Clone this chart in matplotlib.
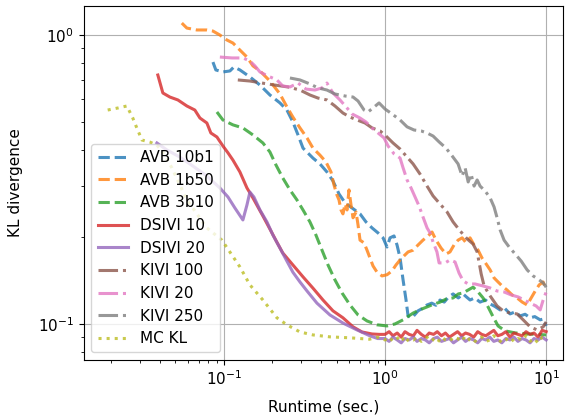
import matplotlib
matplotlib.use("Agg")
import matplotlib.pyplot as plt

# runtime (sec.) / KL divergence
avb10b1_t = [0.0855, 0.0891, 0.0986, 0.109, 0.1153, 0.1257, 0.145, 0.1674, 0.193, 0.2228, 0.246, 0.268,
             0.2884, 0.3097, 0.357, 0.3945, 0.436, 0.475, 0.518, 0.565, 0.624, 0.6995, 0.762, 0.83, 0.905,
             0.972, 1.029, 1.074, 1.137, 1.187, 1.24, 1.294, 1.35, 1.39, 1.471, 1.603, 1.7, 1.823, 1.95, 2.07,
             2.196, 2.33, 2.48, 2.645, 2.85, 3.05, 3.2, 3.37, 3.6, 3.89, 4.2, 4.49, 4.8, 5.18, 5.55, 5.97,
             6.4, 6.9, 7.4, 7.95, 8.5, 9.18, 9.6, 10.0]
avb10b1_kl = [0.806, 0.757, 0.745, 0.751, 0.775, 0.757, 0.716, 0.671, 0.62, 0.582, 0.55, 0.5, 0.451,
              0.406, 0.375, 0.358, 0.3357, 0.3126, 0.2818, 0.2624, 0.252, 0.2404, 0.2254, 0.215, 0.2065,
              0.1986, 0.1846, 0.1986, 0.2016, 0.1876, 0.169, 0.142, 0.121, 0.1066, 0.105, 0.111, 0.113,
              0.1163, 0.118, 0.116, 0.121, 0.119, 0.124, 0.127, 0.123, 0.127, 0.124, 0.121, 0.123, 0.119,
              0.121, 0.1173, 0.115, 0.1118, 0.113, 0.1083, 0.11, 0.1066, 0.108, 0.105, 0.106, 0.1033, 0.104,
              0.0984]

avb1b50_t = [0.0548, 0.0589, 0.0679, 0.0784, 0.0855, 0.0944, 0.1044, 0.1138, 0.1257, 0.139, 0.1514,
             0.1674, 0.193, 0.2228, 0.246, 0.268, 0.2965, 0.328, 0.357, 0.3945, 0.43, 0.462, 0.482, 0.503,
             0.518, 0.533, 0.548, 0.565, 0.581, 0.5975, 0.615, 0.633, 0.661, 0.68, 0.6995, 0.741, 0.773,
             0.807, 0.842, 0.892, 0.958, 1.029, 1.105, 1.17, 1.24, 1.312, 1.39, 1.493, 1.603, 1.72, 1.85,
             1.958, 2.074, 2.227, 2.39, 2.53, 2.68, 2.84, 3.01, 3.19, 3.37, 3.57, 3.78, 4.0, 4.24, 4.49,
             4.75, 5.03, 5.33, 5.72, 6.15, 6.6, 7.1, 7.62, 8.07, 8.55, 9.05, 9.58, 10.0]
avb1b50_kl = [1.1, 1.057, 1.041, 1.041, 1.032, 1.0, 0.961, 0.938, 0.887, 0.839, 0.782, 0.751, 0.693,
              0.625, 0.564, 0.52, 0.477, 0.4403, 0.406, 0.384, 0.3636, 0.3357, 0.303, 0.2794, 0.2686,
              0.248, 0.2404, 0.26, 0.248, 0.291, 0.258, 0.233, 0.244, 0.22, 0.195, 0.1907, 0.18, 0.169,
              0.1588, 0.151, 0.1466, 0.148, 0.1526, 0.16, 0.1665, 0.172, 0.1775, 0.18, 0.1876, 0.195,
              0.2016, 0.208, 0.195, 0.183, 0.1746, 0.1775, 0.1876, 0.195, 0.1986, 0.1907, 0.1986, 0.1876,
              0.18, 0.169, 0.1613, 0.1538, 0.1443, 0.1397, 0.1353, 0.131, 0.126, 0.123, 0.119, 0.1163,
              0.123, 0.13, 0.1365, 0.1397, 0.131]

avb3b10_t = [0.0905, 0.0986, 0.1138, 0.1312, 0.1514, 0.1746, 0.193, 0.2104, 0.232, 0.257, 0.284, 0.3097,
             0.342, 0.3726, 0.4063, 0.4426, 0.489, 0.541, 0.606, 0.68, 0.773, 0.892, 1.029, 1.154, 1.294,
             1.493, 1.65, 1.823, 2.0, 2.196, 2.4, 2.645, 2.85, 3.05, 3.277, 3.52, 3.78, 4.06, 4.36, 4.69,
             5.03, 5.56, 6.42, 7.73, 10.0]
avb3b10_kl = [0.5415, 0.508, 0.4886, 0.4768, 0.451, 0.423, 0.3937, 0.355, 0.32, 0.291, 0.2686, 0.248,
              0.2254, 0.203, 0.18, 0.16, 0.142, 0.128, 0.1163, 0.1074, 0.1024, 0.0993, 0.0984, 0.1,
              0.1033, 0.109, 0.112, 0.1145, 0.117, 0.119, 0.122, 0.123, 0.127, 0.128, 0.131, 0.134, 0.129,
              0.123, 0.1145, 0.1057, 0.0984, 0.0946, 0.0931, 0.0923, 0.0916]

dsivi10_t = [0.0389, 0.0418, 0.0462, 0.0518, 0.0589, 0.066, 0.071, 0.0784, 0.083, 0.0905, 0.0986, 0.106,
             0.1138, 0.1257, 0.139, 0.1514, 0.1626, 0.1746, 0.193, 0.213, 0.232, 0.268, 0.3097, 0.357,
             0.412, 0.475, 0.548, 0.633, 0.719, 0.83, 0.92,
             1.0, 1.06, 1.12, 1.19, 1.26, 1.33, 1.41, 1.5, 1.58, 1.68, 1.78, 1.88, 2.0, 2.11, 2.24, 2.37,
             2.51, 2.66, 2.82, 2.99, 3.16, 3.35, 3.55, 3.76, 3.98, 4.22, 4.47, 4.73, 5.01, 5.31, 5.62,
             5.96, 6.31, 6.68, 7.08, 7.5, 7.94, 8.41, 8.91, 9.44, 10.0]
dsivi10_kl = [0.727, 0.63, 0.61, 0.596, 0.568, 0.55, 0.516, 0.496, 0.458, 0.4436, 0.413, 0.391, 0.369,
              0.3357, 0.2956, 0.273, 0.254, 0.2364, 0.213, 0.192, 0.176, 0.16, 0.1455, 0.133, 0.121,
              0.111, 0.105, 0.0977, 0.0938, 0.0923, 0.092,
              0.092, 0.094, 0.091, 0.093, 0.090, 0.094, 0.092, 0.091, 0.095, 0.092, 0.090, 0.093, 0.092,
              0.094, 0.091, 0.093, 0.090, 0.092, 0.094, 0.091, 0.093, 0.092, 0.090, 0.094, 0.092, 0.091,
              0.093, 0.095, 0.091, 0.092, 0.094, 0.090, 0.093, 0.092, 0.091, 0.094, 0.092, 0.093, 0.090,
              0.095, 0.094]

dsivi20_t = [0.0384, 0.0443, 0.0533, 0.0642, 0.0784, 0.0944, 0.106, 0.117, 0.1312, 0.139, 0.145, 0.1535,
             0.1674, 0.185, 0.2015, 0.2228, 0.246, 0.268, 0.2965, 0.328, 0.378, 0.455, 0.548, 0.67,
             0.807, 0.9,
             1.0, 1.06, 1.12, 1.19, 1.26, 1.33, 1.41, 1.5, 1.58, 1.68, 1.78, 1.88, 2.0, 2.11, 2.24, 2.37,
             2.51, 2.66, 2.82, 2.99, 3.16, 3.35, 3.55, 3.76, 3.98, 4.22, 4.47, 4.73, 5.01, 5.31, 5.62,
             5.96, 6.31, 6.68, 7.08, 7.5, 7.94, 8.41, 8.91, 9.44, 10.0]
dsivi20_kl = [0.423, 0.4, 0.378, 0.352, 0.325, 0.2956, 0.275, 0.252, 0.229, 0.258, 0.286, 0.275, 0.248,
              0.2254, 0.203, 0.183, 0.165, 0.151, 0.1397, 0.13, 0.118, 0.1074, 0.1007, 0.0953, 0.0909,
              0.089,
              0.089, 0.087, 0.090, 0.088, 0.086, 0.089, 0.088, 0.090, 0.087, 0.089, 0.088, 0.086, 0.089,
              0.090, 0.087, 0.088, 0.089, 0.086, 0.088, 0.090, 0.087, 0.089, 0.088, 0.086, 0.089, 0.088,
              0.090, 0.087, 0.088, 0.086, 0.089, 0.088, 0.090, 0.087, 0.089, 0.088, 0.086, 0.089, 0.088,
              0.090, 0.088]

kivi100_t = [0.122, 0.145, 0.172, 0.2073, 0.2497, 0.2965, 0.342, 0.3837, 0.436, 0.489, 0.548, 0.606,
             0.67, 0.751, 0.83, 0.931, 1.014, 1.121, 1.24, 1.37, 1.493, 1.65, 1.823, 1.987, 2.196, 2.427,
             2.645, 2.92, 3.23, 3.52, 3.73, 3.84, 3.95, 4.12, 4.49, 4.96, 5.41, 5.97, 6.6, 7.2, 7.95,
             8.79, 9.58, 10.0]
kivi100_kl = [0.699, 0.693, 0.682, 0.671, 0.661, 0.645, 0.62, 0.605, 0.596, 0.568, 0.537, 0.52, 0.508,
              0.496, 0.477, 0.4656, 0.447, 0.423, 0.403, 0.378, 0.358, 0.33, 0.3, 0.2773, 0.26, 0.244,
              0.2254, 0.21, 0.197, 0.189, 0.1775, 0.1626, 0.149, 0.1353, 0.125, 0.1154, 0.111, 0.109,
              0.1083, 0.1033, 0.0977, 0.0953, 0.0977, 0.1016]

kivi20_t = [0.0944, 0.1122, 0.1312, 0.145, 0.1557, 0.1674, 0.1875, 0.2133, 0.232, 0.257, 0.2884, 0.323,
            0.3673, 0.4063, 0.436, 0.475, 0.5254, 0.581, 0.624, 0.6995, 0.762, 0.83, 0.905, 0.986, 1.044,
            1.137, 1.24, 1.294, 1.37, 1.45, 1.536, 1.626, 1.72, 1.823, 1.903, 1.987, 2.1, 2.165, 2.36,
            2.53, 2.72, 2.88, 3.05, 3.28, 3.62, 4.06, 4.49, 4.96, 5.48, 6.06, 6.7, 7.3, 7.95, 8.66, 9.18,
            9.58, 10.0]
kivi20_kl = [0.839, 0.833, 0.833, 0.813, 0.782, 0.745, 0.7215, 0.699, 0.666, 0.661, 0.682, 0.65, 0.645,
             0.656, 0.682, 0.63, 0.596, 0.559, 0.533, 0.516, 0.5, 0.477, 0.458, 0.4403, 0.413, 0.388,
             0.375, 0.347, 0.315, 0.2956, 0.275, 0.256, 0.2346, 0.215, 0.2065, 0.192, 0.1775, 0.1626,
             0.1626, 0.1665, 0.1638, 0.15, 0.141, 0.1375, 0.1375, 0.1353, 0.1332, 0.13, 0.129, 0.126,
             0.124, 0.121, 0.118, 0.1154, 0.1118, 0.121, 0.129]

kivi250_t = [0.257, 0.2965, 0.342, 0.3837, 0.436, 0.489, 0.565, 0.633, 0.68, 0.741, 0.784, 0.842, 0.918,
             1.0, 1.105, 1.24, 1.37, 1.514, 1.674, 1.823, 1.987, 2.165, 2.39, 2.61, 2.84, 3.01, 3.14,
             3.28, 3.42, 3.57, 3.73, 3.89, 4.18, 4.49, 4.75, 4.96, 5.18, 5.48, 5.89, 6.42, 7.0, 7.62,
             8.3, 9.05, 9.58, 10.0]
kivi250_kl = [0.71, 0.699, 0.677, 0.656, 0.645, 0.625, 0.615, 0.61, 0.591, 0.55, 0.5415, 0.559, 0.582,
              0.5545, 0.533, 0.508, 0.481, 0.469, 0.4656, 0.458, 0.447, 0.4266, 0.406, 0.3813, 0.358,
              0.325, 0.347, 0.31, 0.33, 0.3, 0.315, 0.3, 0.2884, 0.273, 0.254, 0.233, 0.2115, 0.195,
              0.1846, 0.1746, 0.165, 0.1538, 0.1466, 0.142, 0.1387, 0.134]

mckl_t = [0.019, 0.022, 0.025, 0.0272, 0.0288, 0.031, 0.0347, 0.0384, 0.043, 0.0475, 0.0589, 0.0784,
          0.0972, 0.1257, 0.145, 0.1746, 0.2133, 0.246, 0.2965, 0.357, 0.455, 0.607, 0.7, 0.8, 0.9,
          1.0, 1.06, 1.12, 1.19, 1.26, 1.33, 1.41, 1.5, 1.58, 1.68, 1.78, 1.88, 2.0, 2.11, 2.24, 2.37,
          2.51, 2.66, 2.82, 2.99, 3.16, 3.35, 3.55, 3.76, 3.98, 4.22, 4.47, 4.73, 5.01, 5.31, 5.62,
          5.96, 6.31, 6.68, 7.08, 7.5, 7.94, 8.41, 8.91, 9.44, 10.0]
mckl_kl = [0.55, 0.559, 0.568, 0.516, 0.477, 0.433, 0.426, 0.416, 0.384, 0.347, 0.269, 0.215, 0.195,
           0.1575, 0.1365, 0.121, 0.105, 0.0993, 0.0938, 0.0916, 0.0902, 0.0895, 0.089, 0.0885, 0.09,
           0.088, 0.090, 0.087, 0.089, 0.091, 0.086, 0.089, 0.088, 0.090, 0.087, 0.089, 0.091, 0.088,
           0.086, 0.090, 0.088, 0.087, 0.090, 0.089, 0.087, 0.091, 0.088, 0.086, 0.089, 0.090, 0.087,
           0.088, 0.091, 0.089, 0.086, 0.088, 0.090, 0.087, 0.089, 0.088, 0.091, 0.087, 0.089, 0.086,
           0.090, 0.088]

plt.rcParams['font.size'] = 11

fig = plt.figure(figsize=(5.66, 4.15), dpi=100)
ax = fig.add_axes([0.148, 0.1325, 0.847, 0.853])

lw = 2.2
a = 0.8
ax.plot(avb10b1_t, avb10b1_kl, '--', color='tab:blue', lw=lw, alpha=a, label='AVB 10b1')
ax.plot(avb1b50_t, avb1b50_kl, '--', color='tab:orange', lw=lw, alpha=a, label='AVB 1b50')
ax.plot(avb3b10_t, avb3b10_kl, '--', color='tab:green', lw=lw, alpha=a, label='AVB 3b10')
ax.plot(dsivi10_t, dsivi10_kl, '-', color='tab:red', lw=lw, alpha=a, label='DSIVI 10')
ax.plot(dsivi20_t, dsivi20_kl, '-', color='tab:purple', lw=lw, alpha=a, label='DSIVI 20')
ax.plot(kivi100_t, kivi100_kl, '-.', color='tab:brown', lw=lw, alpha=a, label='KIVI 100')
ax.plot(kivi20_t, kivi20_kl, '-.', color='tab:pink', lw=lw, alpha=a, label='KIVI 20')
ax.plot(kivi250_t, kivi250_kl, '-.', color='tab:gray', lw=lw, alpha=a, label='KIVI 250')
ax.plot(mckl_t, mckl_kl, ':', color='tab:olive', lw=lw, alpha=a, label='MC KL')

ax.set_xscale('log')
ax.set_yscale('log')
ax.set_xlim(0.0135, 12.75)
ax.set_ylim(0.075, 1.26)
ax.grid(True, which='major')
ax.set_xlabel('Runtime (sec.)', labelpad=8)
ax.set_ylabel('KL divergence', labelpad=11)
ax.legend(loc='lower left')

fig.savefig('out.png', dpi=100)
